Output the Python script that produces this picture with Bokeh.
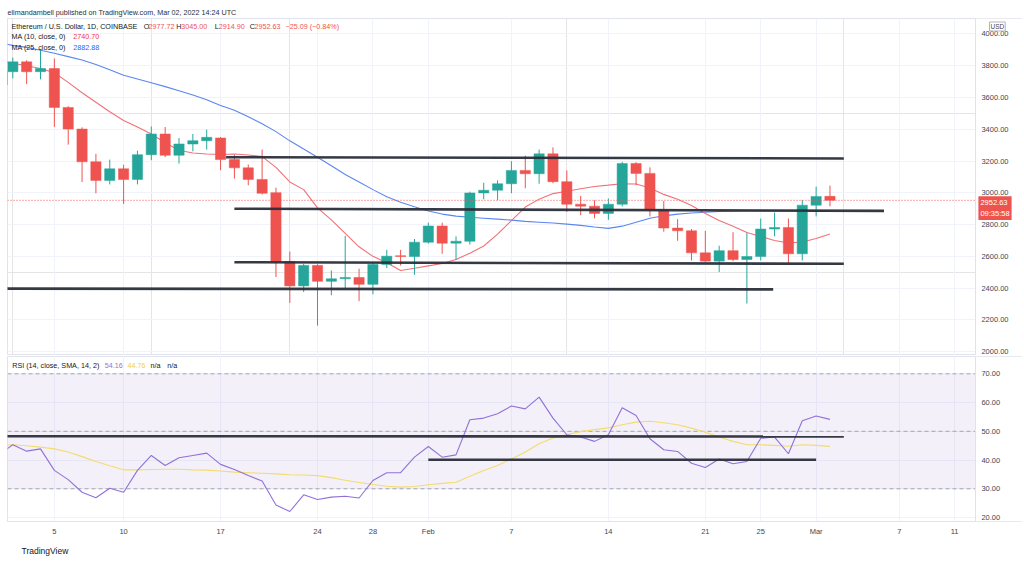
import pandas as pd
from bokeh.plotting import figure
from bokeh.models import (ColumnDataSource, Range1d, FixedTicker, NumeralTickFormatter,
                          Label, BoxAnnotation, Grid, LinearAxis, Title)
from bokeh.layouts import column
from bokeh.embed import file_html
from bokeh.resources import INLINE

FONT = "Liberation Sans"

# ---------------- data ----------------
dates = pd.date_range("2022-01-01", "2022-03-02", freq="D")

opens = [3680, 3762, 3824, 3762, 3782, 3537, 3401, 3195, 3078, 3151, 3084, 3240, 3370, 3236, 3307, 3328,
         3345, 3209, 3157, 3084, 3001, 2568, 2414, 2543, 2443, 2459, 2467, 2424, 2549, 2604, 2599,
         2689, 2791, 2683, 2695, 2999, 3016, 3057, 3141, 3120, 3245, 3070, 2928, 2916, 2870, 2928,
         3184, 3122, 2891, 2778, 2761, 2622, 2570, 2636, 2580, 2599, 2772, 2782, 2616,
         2922, 2977.72]
highs = [3770, 3851, 3834, 3900, 3845, 3545, 3412, 3245, 3209, 3176, 3265, 3417, 3414, 3345, 3370, 3397,
         3351, 3240, 3178, 3272, 3032, 2630, 2553, 2550, 2511, 2729, 2522, 2560, 2641, 2641, 2709,
         2812, 2812, 2726, 3007, 3063, 3078, 3199, 3234, 3272, 3286, 3140, 2980, 2953, 2964, 3195,
         3193, 3160, 2948, 2834, 2772, 2761, 2667, 2752, 2748, 2838, 2876, 2838, 2955,
         3039, 3045.00]
lows = [3676, 3720, 3684, 3714, 3414, 3303, 3068, 2997, 3053, 2930, 3053, 3205, 3225, 3184, 3261, 3272,
        3142, 3089, 3047, 2990, 2470, 2307, 2376, 2164, 2355, 2400, 2318, 2361, 2526, 2542, 2484,
        2680, 2616, 2578, 2674, 2959, 2953, 2997, 3028, 3057, 3060, 2880, 2859, 2839, 2830, 2914,
        3047, 2851, 2755, 2698, 2574, 2564, 2501, 2570, 2303, 2574, 2726, 2559, 2574,
        2851, 2914.90]
closes = [3762, 3824, 3762, 3782, 3537, 3401, 3195, 3078, 3151, 3084, 3240, 3370, 3236, 3307, 3328, 3349,
          3209, 3157, 3084, 2997, 2568, 2414, 2543, 2443, 2459, 2467, 2424, 2549, 2601, 2599, 2689,
          2791, 2683, 2695, 2999, 3016, 3057, 3141, 3120, 3245, 3070, 2928, 2916, 2870, 2928, 3184,
          3122, 2891, 2778, 2761, 2622, 2570, 2636, 2580, 2599, 2772, 2782, 2616, 2922,
          2977, 2952.63]

ma10 = [3830, 3815, 3800, 3782, 3755, 3695, 3630, 3570, 3510, 3455, 3414, 3370, 3315, 3268, 3250, 3244,
        3241, 3244, 3238, 3228, 3160, 3068, 3020, 2905, 2830, 2745, 2660, 2600, 2560, 2511, 2525,
        2540, 2555, 2580, 2620, 2665, 2740, 2825, 2910, 2960, 2995, 3010, 3025, 3040, 3048, 3057,
        3055, 3030, 2990, 2960, 2920, 2870, 2825, 2790, 2750, 2725, 2700, 2684, 2690,
        2712, 2740.70]
ma25 = [3945, 3928, 3915, 3897, 3878, 3857, 3836, 3808, 3775, 3740, 3716, 3692, 3668, 3642, 3615, 3585,
        3550, 3520, 3478, 3435, 3385, 3327, 3275, 3224, 3170, 3115, 3068, 3020, 2975, 2940, 2912,
        2885, 2866, 2853, 2846, 2840, 2834, 2828, 2820, 2815, 2810, 2803, 2795, 2785, 2776, 2790,
        2815, 2840, 2855, 2866, 2873, 2878, 2882, 2884, 2885, 2886, 2886, 2885, 2884,
        2883, 2882.88]

rsi = [42.0, 45.3, 43.1, 43.9, 36.4, 33.2, 28.8, 26.9, 30.2, 28.8, 36.4, 41.6, 38.1, 40.8, 41.6, 42.4,
       38.5, 36.7, 34.6, 32.7, 24.4, 22.1, 27.9, 26.3, 27.1, 27.4, 26.8, 32.9, 35.6, 35.6, 41.0,
       44.7, 41.0, 41.8, 54.0, 54.6, 56.1, 58.8, 57.8, 61.9, 54.6, 48.8, 48.0, 46.5, 48.8, 58.2,
       55.5, 47.4, 43.6, 43.0, 38.9, 37.4, 40.4, 38.7, 39.5, 47.6, 48.0, 42.2, 53.7,
       55.3, 54.16]
rsi_sma = [45.2, 45.3, 45.0, 44.5, 43.9, 42.8, 41.2, 39.5, 38.0, 36.6, 36.6, 36.7, 36.8, 36.8, 36.6, 36.5,
           36.2, 35.8, 35.6, 35.4, 35.2, 34.9, 34.8, 34.6, 33.9, 33.0, 32.2, 31.5, 30.9, 30.6, 30.8,
           31.4, 31.9, 32.3, 34.4, 36.4, 38.1, 40.4, 42.8, 45.7, 47.7, 48.9, 49.9, 50.6, 51.2, 52.3,
           53.2, 53.5, 53.0, 52.3, 51.1, 49.7, 48.0, 46.5, 45.3, 45.3, 45.1, 44.8, 45.3,
           45.1, 44.76]

tick_dates = ["2022-01-05", "2022-01-10", "2022-01-17", "2022-01-24", "2022-01-28", "2022-02-01",
              "2022-02-07", "2022-02-14", "2022-02-21", "2022-02-25", "2022-03-01", "2022-03-07",
              "2022-03-11"]
tick_labels = ["5", "10", "17", "24", "28", "Feb", "7", "14", "21", "25", "Mar", "7", "11"]
price_ticks = [2000, 2200, 2400, 2600, 2800, 3000, 3200, 3400, 3600, 3800, 4000]
rsi_ticks = [20, 30, 40, 50, 60, 70]
rsi_levels = [70, 50, 30]

# drawn trend lines (day offsets from 2 Jan, price)
trend_x0 = [15.4, 16.0, 16.0, -1.0]
trend_x1 = [60.0, 62.9, 60.0, 54.9]
trend_y0 = [3224, 2900, 2563, 2397]
trend_y1 = [3216, 2886, 2553, 2392]
rsi_trend_x0 = [-1.0, 30.0]
rsi_trend_x1 = [60.0, 58.0]
rsi_trend_y0 = [48.3, 40.1]
rsi_trend_y1 = [48.2, 40.1]

last_price = 2952.63

# ---------------- derived ----------------
base = pd.Timestamp("2022-01-02")
days = [(d - base).days for d in dates]
tick_days = [(pd.Timestamp(t) - base).days for t in tick_dates]
UP, DOWN = "#26a69a", "#ef5350"
colors = [UP if c >= o else DOWN for o, c in zip(opens, closes)]
src = ColumnDataSource(dict(
    x=days, open=opens, high=highs, low=lows, close=closes,
    top=[max(o, c) for o, c in zip(opens, closes)],
    bottom=[min(o, c) for o, c in zip(opens, closes)],
    color=colors, ma10=ma10, ma25=ma25, rsi=rsi, rsi_sma=rsi_sma))

X0, AXIS_X, X1 = -0.383, 69.5, 72.9      # left edge, price-scale edge, right edge (days)
XR = Range1d(X0, X1)
GRID = "#f0f3fa"
TXT = "#131722"
AX = "#434651"
FW = 1015


def lab(fig, x, y, text, color=TXT, size="7.2px", style="normal", baseline="middle", **kw):
    fig.add_layout(Label(x=x, y=y, x_units="screen", y_units="screen", text=text,
                         text_color=color, text_font_size=size, text_font=FONT,
                         text_font_style=style, text_baseline=baseline, **kw))


def price_scale(fig, ticks):
    fig.add_layout(Grid(dimension=1, ticker=FixedTicker(ticks=ticks), grid_line_color=GRID))
    fig.add_layout(BoxAnnotation(left=AXIS_X, fill_color="white", fill_alpha=1.0,
                                 line_color=None, level="underlay"))
    ax = LinearAxis(fixed_location=AXIS_X, ticker=FixedTicker(ticks=ticks),
                    formatter=NumeralTickFormatter(format="0.00"),
                    major_label_text_font=FONT, major_label_text_font_size="7.5px",
                    major_label_text_color=AX, major_tick_line_color=None,
                    major_tick_out=0, major_tick_in=0,
                    minor_tick_line_color=None, axis_line_color="#e0e3eb",
                    major_label_standoff=6)
    fig.add_layout(ax, "right")


# ---------------- main price pane ----------------
p = figure(frame_width=FW, frame_height=337, x_range=XR, y_range=Range1d(1976, 4096.9),
           y_axis_location=None, x_axis_location=None, output_backend="svg",
           toolbar_location=None, min_border_left=7, min_border_right=0, min_border_top=18,
           min_border_bottom=0, background_fill_color="white", border_fill_color="white",
           outline_line_color="#e0e3eb")
p.add_layout(Grid(dimension=0, ticker=FixedTicker(ticks=tick_days), grid_line_color=GRID))
price_scale(p, price_ticks)

p.add_layout(Title(text="elimandambell published on TradingView.com, Mar 02, 2022 14:24 UTC",
                   text_font=FONT, text_font_size="7.2px", text_color="#2a2e39",
                   text_font_style="normal", align="left", offset=0, standoff=4), "above")

p.line("x", "ma25", source=src, line_color="#5b86f2", line_width=1.1)
p.line("x", "ma10", source=src, line_color="#f17177", line_width=1.1)

p.segment(x0="x", x1="x", y0="low", y1="high", source=src, line_color="color", line_width=1)
p.vbar(x="x", width=0.74, top="top", bottom="bottom", source=src, fill_color="color",
       line_color="color", line_width=0.5)

p.segment(x0=trend_x0, x1=trend_x1, y0=trend_y0, y1=trend_y1, line_color="#2a2e39",
          line_width=2.6, line_alpha=0.95)

p.segment(x0=[X0], x1=[AXIS_X], y0=[last_price], y1=[last_price], line_color=DOWN,
          line_dash="1 2", line_width=1)

# legends
lab(p, 4, 329, "Ethereum / U.S. Dollar, 1D, COINBASE")
for xx, t, c in [(136.3, "O", TXT), (141.0, "2977.72", DOWN), (168.7, "H", TXT), (173.7, "3045.00", DOWN),
                 (207.3, "L", TXT), (211.3, "2914.90", DOWN), (242.3, "C", TXT), (247.0, "2952.63", DOWN),
                 (278.0, "\u221225.09 (\u22120.84%)", DOWN)]:
    lab(p, xx, 329, t, color=c)
lab(p, 4, 319, "MA (10, close, 0)")
lab(p, 65.7, 319, "2740.70", color="#f23645")
lab(p, 4, 308, "MA (25, close, 0)")
lab(p, 65.7, 308, "2882.88", color="#2962ff")

# USD badge and last price tag on the price scale
p.add_layout(Label(x=982, y=329, x_units="screen", y_units="screen", text="USD",
                   text_font=FONT, text_font_size="6.5px", text_color=AX, text_baseline="middle",
                   background_fill_color="white", border_line_color="#b2b5be", padding=1))
p.add_layout(Label(x=AXIS_X, y=last_price, text="2952.63\n09:35:58", x_offset=3,
                   text_font=FONT, text_font_size="7.5px", text_color="white", text_baseline="top",
                   background_fill_color=DOWN, padding=2, y_offset=4))

# ---------------- RSI pane ----------------
r = figure(frame_width=FW, frame_height=165, x_range=XR, y_range=Range1d(18.63, 76.02),
           y_axis_location=None, output_backend="svg", toolbar_location=None,
           min_border_left=7, min_border_right=0, min_border_top=1, min_border_bottom=42,
           background_fill_color="white", border_fill_color="white", outline_line_color="#e0e3eb")
r.xaxis.ticker = FixedTicker(ticks=tick_days)
r.xaxis.major_label_overrides = {d: l for d, l in zip(tick_days, tick_labels)}
r.xaxis.major_label_text_font = FONT
r.xaxis.major_label_text_font_size = "7.5px"
r.xaxis.major_label_text_color = AX
r.xaxis.major_tick_line_color = None
r.xaxis.major_tick_out = 0
r.xaxis.major_tick_in = 0
r.xaxis.minor_tick_line_color = None
r.xaxis.axis_line_color = None
r.xaxis.major_label_standoff = 5
r.xgrid.grid_line_color = GRID
price_scale(r, rsi_ticks)

r.add_layout(BoxAnnotation(bottom=30, top=70, right=AXIS_X, fill_color="#7e57c2", fill_alpha=0.09,
                           line_color=None, level="underlay"))
r.segment(x0=[X0] * 3, x1=[AXIS_X] * 3, y0=rsi_levels, y1=rsi_levels, line_color="#9598a1",
          line_dash="4 3", line_width=1, line_alpha=0.85)

r.line("x", "rsi_sma", source=src, line_color="#f3dc6b", line_width=1.1)
r.line("x", "rsi", source=src, line_color="#9171d8", line_width=1.1)
r.segment(x0=rsi_trend_x0, x1=rsi_trend_x1, y0=rsi_trend_y0, y1=rsi_trend_y1,
          line_color="#2a2e39", line_width=2.6, line_alpha=0.95)

lab(r, 4.7, 156, "RSI (14, close, SMA, 14, 2)")
lab(r, 97.3, 156, "54.16", color="#9575cd")
lab(r, 120, 156, "44.76", color="#f2cf3a")
lab(r, 143, 156, "n/a")
lab(r, 159.7, 156, "n/a")

r.add_layout(Title(text="TradingView", text_font=FONT, text_font_size="8.5px", text_color=TXT,
                   text_font_style="normal", align="left", offset=14, standoff=10), "below")

layout = column(p, r, spacing=0)
open("out.html", "w").write(file_html(layout, INLINE))
